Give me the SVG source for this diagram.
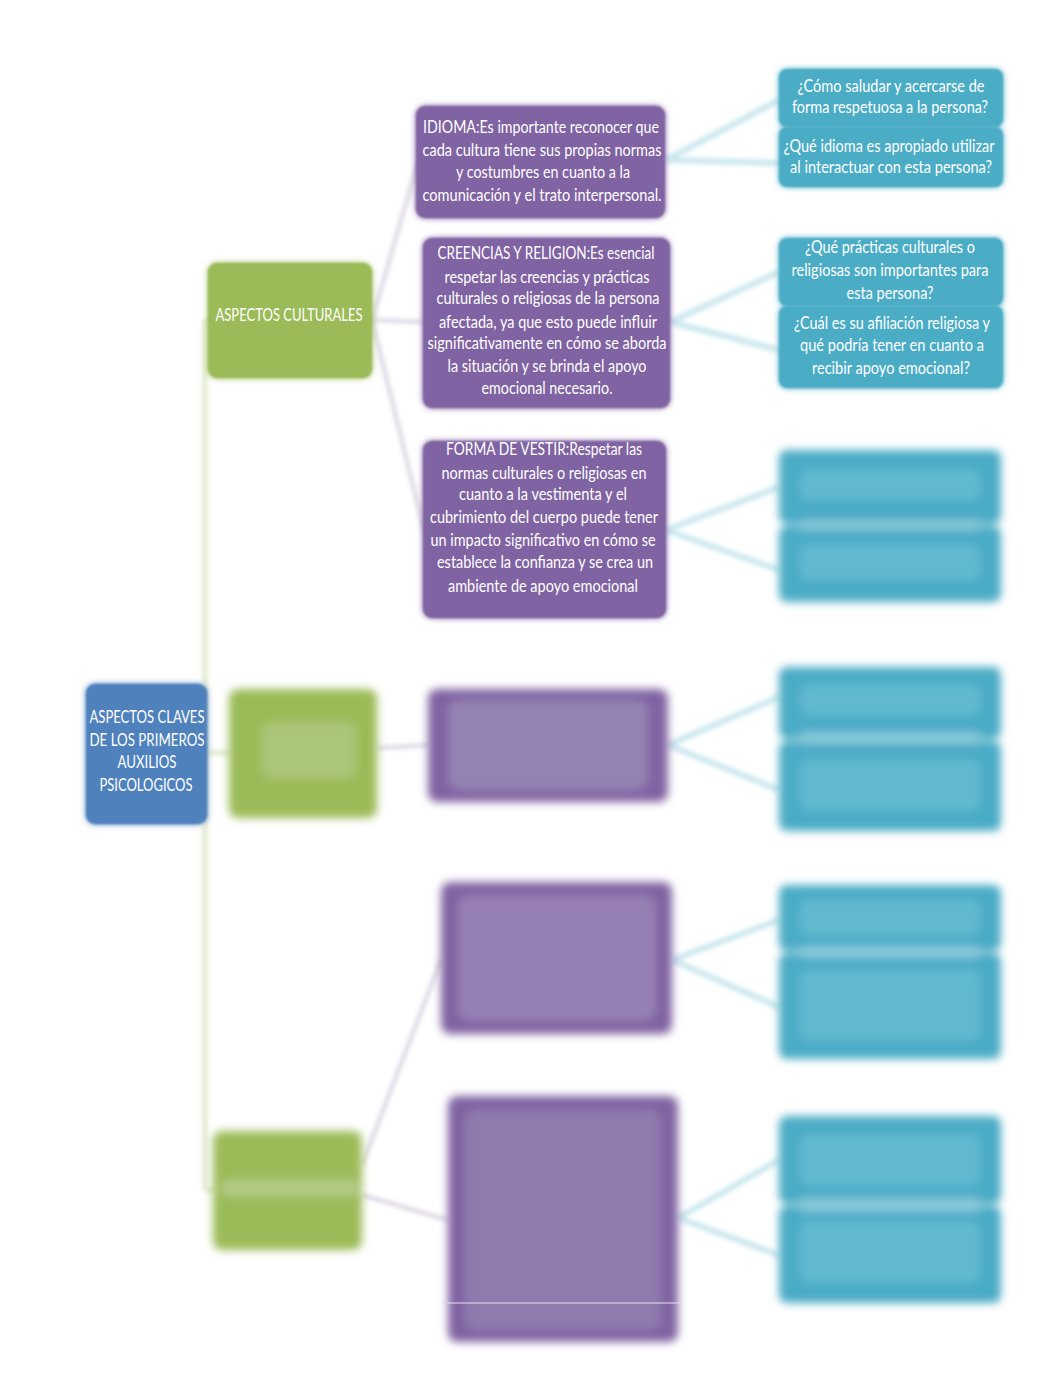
<svg xmlns="http://www.w3.org/2000/svg" width="1062" height="1376" viewBox="0 0 1062 1376">
<style>
.t{font-family:Lato,"Liberation Sans",sans-serif;font-size:16.5px;fill:#ffffff;text-anchor:middle}
.blue{fill:#4f81bd}
.green{fill:#9bbb59}
.purple{fill:#8064a2}
.teal{fill:#4bacc6}
.cg{stroke:#dfe9cc;stroke-width:5;fill:none}
.cp{stroke:#dad5e2;stroke-width:4;fill:none}
.ct{stroke:#cbe8ef;stroke-width:6;fill:none}
</style>
<defs>
<filter id="edge" x="-10%" y="-10%" width="120%" height="120%">
<feGaussianBlur in="SourceGraphic" stdDeviation="3" result="b"/>
<feGaussianBlur in="SourceGraphic" stdDeviation="1.2" result="c"/>
<feMerge><feMergeNode in="b"/><feMergeNode in="c"/></feMerge>
</filter>
<filter id="soft" x="-10%" y="-10%" width="120%" height="120%">
<feGaussianBlur stdDeviation="2"/>
</filter>
<filter id="blur" x="-10%" y="-10%" width="120%" height="120%">
<feGaussianBlur stdDeviation="4"/>
</filter>
</defs>
<rect width="1062" height="1376" fill="#ffffff"/>

<g id="connectors" filter="url(#soft)">
<path class="cg" d="M205,320 V1190 M205,320 H212 M205,753 H230 M205,1190 H214"/>
<path class="cp" d="M372,320 L418,162 M372,320 L424,322 M372,320 L424,530"/>
<path class="cp" d="M377,748 L428,745"/>
<path class="cp" d="M362,1165 L441,960 M362,1195 L448,1220"/>
<path class="ct" d="M666,160 L779,100 M666,160 L779,163"/>
<path class="ct" d="M670,322 L779,272 M670,322 L779,350"/>
<path class="ct" d="M666,530 L779,487 M666,530 L779,570"/>
<path class="ct" d="M668,745 L779,697 M668,745 L779,790"/>
<path class="ct" d="M672,960 L779,920 M672,960 L779,1007"/>
<path class="ct" d="M678,1218 L779,1160 M678,1218 L779,1255"/>
</g>

<g id="root">
<rect class="blue" x="86" y="684" width="121" height="140" rx="9" filter="url(#edge)"/>
<text class="t" x="147" y="723" textLength="115" lengthAdjust="spacingAndGlyphs">ASPECTOS CLAVES</text>
<text class="t" x="147" y="746" textLength="115" lengthAdjust="spacingAndGlyphs">DE LOS PRIMEROS</text>
<text class="t" x="147" y="768" textLength="59" lengthAdjust="spacingAndGlyphs">AUXILIOS</text>
<text class="t" x="146" y="791" textLength="93" lengthAdjust="spacingAndGlyphs">PSICOLOGICOS</text>
</g>

<g id="g1">
<rect class="green" x="208" y="263" width="164" height="115" rx="9" filter="url(#edge)"/>
<text class="t" x="289" y="321" textLength="147" lengthAdjust="spacingAndGlyphs">ASPECTOS CULTURALES</text>
</g>

<g id="g2" filter="url(#blur)">
<rect class="green" x="229" y="689" width="148" height="129" rx="9"/>
<rect x="262" y="722" width="94" height="56" rx="10" fill="#aac679"/>
</g>

<g id="g3" filter="url(#blur)">
<rect class="green" x="213" y="1131" width="149" height="119" rx="9"/>
<rect x="222" y="1180" width="136" height="16" rx="6" fill="#b2cc86"/>
</g>

<g id="p1">
<rect class="purple" x="416" y="106" width="249" height="112" rx="9" filter="url(#edge)"/>
<text class="t" x="541" y="133" textLength="236" lengthAdjust="spacingAndGlyphs">IDIOMA:Es importante reconocer que</text>
<text class="t" x="542" y="156" textLength="239" lengthAdjust="spacingAndGlyphs">cada cultura tiene sus propias normas</text>
<text class="t" x="543" y="178" textLength="174" lengthAdjust="spacingAndGlyphs">y costumbres en cuanto a la</text>
<text class="t" x="542" y="201" textLength="239" lengthAdjust="spacingAndGlyphs">comunicación y el trato interpersonal.</text>
</g>

<g id="p2">
<rect class="purple" x="423" y="238" width="247" height="170" rx="9" filter="url(#edge)"/>
<text class="t" x="546" y="259" textLength="217" lengthAdjust="spacingAndGlyphs">CREENCIAS Y RELIGION:Es esencial</text>
<text class="t" x="547" y="283" textLength="205" lengthAdjust="spacingAndGlyphs">respetar las creencias y prácticas</text>
<text class="t" x="548" y="304" textLength="223" lengthAdjust="spacingAndGlyphs">culturales o religiosas de la persona</text>
<text class="t" x="548" y="328" textLength="218" lengthAdjust="spacingAndGlyphs">afectada, ya que esto puede influir</text>
<text class="t" x="547" y="349" textLength="239" lengthAdjust="spacingAndGlyphs">significativamente en cómo se aborda</text>
<text class="t" x="547" y="372" textLength="199" lengthAdjust="spacingAndGlyphs">la situación y se brinda el apoyo</text>
<text class="t" x="547" y="394" textLength="131" lengthAdjust="spacingAndGlyphs">emocional necesario.</text>
</g>

<g id="p3">
<rect class="purple" x="423" y="441" width="243" height="177" rx="9" filter="url(#edge)"/>
<text class="t" x="544" y="455" textLength="196" lengthAdjust="spacingAndGlyphs">FORMA DE VESTIR:Respetar las</text>
<text class="t" x="544" y="479" textLength="205" lengthAdjust="spacingAndGlyphs">normas culturales o religiosas en</text>
<text class="t" x="543" y="500" textLength="168" lengthAdjust="spacingAndGlyphs">cuanto a la vestimenta y el</text>
<text class="t" x="544" y="523" textLength="228" lengthAdjust="spacingAndGlyphs">cubrimiento del cuerpo puede tener</text>
<text class="t" x="543" y="546" textLength="225" lengthAdjust="spacingAndGlyphs">un impacto significativo en cómo se</text>
<text class="t" x="545" y="568" textLength="216" lengthAdjust="spacingAndGlyphs">establece la confianza y se crea un</text>
<text class="t" x="543" y="592" textLength="190" lengthAdjust="spacingAndGlyphs">ambiente de apoyo emocional</text>
</g>

<g id="p4" filter="url(#blur)">
<rect class="purple" x="428" y="689" width="240" height="113" rx="9"/>
<rect x="448" y="700" width="200" height="90" rx="12" fill="#9482b3"/>
</g>

<g id="p5" filter="url(#blur)">
<rect class="purple" x="441" y="882" width="231" height="152" rx="9"/>
<rect x="458" y="895" width="198" height="126" rx="12" fill="#957fb4"/>
</g>

<g id="p6" filter="url(#blur)">
<rect class="purple" x="448" y="1096" width="230" height="246" rx="9"/>
<rect x="465" y="1110" width="196" height="220" rx="12" fill="#907aae"/>
</g>
<line x1="447" y1="1303" x2="680" y2="1303" stroke="#e8e0f0" stroke-width="1"/>

<g id="t1">
<rect class="teal" x="779" y="69" width="224" height="58" rx="8" filter="url(#edge)"/>
<rect class="teal" x="779" y="127" width="224" height="60" rx="8" filter="url(#edge)"/>
<line x1="784" y1="127" x2="998" y2="127" stroke="#6fbfd3" stroke-width="3" filter="url(#soft)"/>
<text class="t" x="891" y="92" textLength="187" lengthAdjust="spacingAndGlyphs">¿Cómo saludar y acercarse de</text>
<text class="t" x="890" y="113" textLength="196" lengthAdjust="spacingAndGlyphs">forma respetuosa a la persona?</text>
<text class="t" x="889" y="152" textLength="211" lengthAdjust="spacingAndGlyphs">¿Qué idioma es apropiado utilizar</text>
<text class="t" x="891" y="173" textLength="202" lengthAdjust="spacingAndGlyphs">al interactuar con esta persona?</text>
</g>

<g id="t2">
<rect class="teal" x="779" y="238" width="224" height="68" rx="8" filter="url(#edge)"/>
<rect class="teal" x="779" y="306" width="224" height="82" rx="8" filter="url(#edge)"/>
<line x1="784" y1="306" x2="998" y2="306" stroke="#6fbfd3" stroke-width="3" filter="url(#soft)"/>
<text class="t" x="890" y="253" textLength="170" lengthAdjust="spacingAndGlyphs">¿Qué prácticas culturales o</text>
<text class="t" x="890" y="276" textLength="197" lengthAdjust="spacingAndGlyphs">religiosas son importantes para</text>
<text class="t" x="890" y="299" textLength="87" lengthAdjust="spacingAndGlyphs">esta persona?</text>
<text class="t" x="892" y="329" textLength="196" lengthAdjust="spacingAndGlyphs">¿Cuál es su afiliación religiosa y</text>
<text class="t" x="892" y="351" textLength="184" lengthAdjust="spacingAndGlyphs">qué podría tener en cuanto a</text>
<text class="t" x="891" y="374" textLength="158" lengthAdjust="spacingAndGlyphs">recibir apoyo emocional?</text>
</g>

<g id="t3" filter="url(#blur)">
<rect class="teal" x="779" y="450" width="222" height="74" rx="8"/>
<rect class="teal" x="779" y="526" width="222" height="76" rx="8"/>
<rect x="800" y="520" width="180" height="10" rx="5" fill="#86c9da"/>
<rect x="800" y="470" width="180" height="30" rx="8" fill="#62b9cf"/>
<rect x="800" y="545" width="180" height="35" rx="8" fill="#62b9cf"/>
</g>

<g id="t4" filter="url(#blur)">
<rect class="teal" x="779" y="667" width="222" height="72" rx="8"/>
<rect class="teal" x="779" y="741" width="222" height="90" rx="8"/>
<rect x="800" y="732" width="180" height="12" rx="5" fill="#86c9da"/>
<rect x="800" y="685" width="180" height="30" rx="8" fill="#62b9cf"/>
<rect x="800" y="760" width="180" height="50" rx="8" fill="#62b9cf"/>
</g>

<g id="t5" filter="url(#blur)">
<rect class="teal" x="779" y="885" width="222" height="66" rx="8"/>
<rect class="teal" x="779" y="953" width="222" height="106" rx="8"/>
<rect x="800" y="946" width="180" height="12" rx="5" fill="#86c9da"/>
<rect x="800" y="900" width="180" height="35" rx="8" fill="#62b9cf"/>
<rect x="800" y="970" width="180" height="70" rx="8" fill="#62b9cf"/>
</g>

<g id="t6" filter="url(#blur)">
<rect class="teal" x="779" y="1116" width="222" height="88" rx="8"/>
<rect class="teal" x="779" y="1206" width="222" height="97" rx="8"/>
<rect x="800" y="1198" width="180" height="14" rx="5" fill="#86c9da"/>
<rect x="800" y="1135" width="180" height="50" rx="8" fill="#62b9cf"/>
<rect x="800" y="1222" width="180" height="60" rx="8" fill="#62b9cf"/>
</g>
</svg>
